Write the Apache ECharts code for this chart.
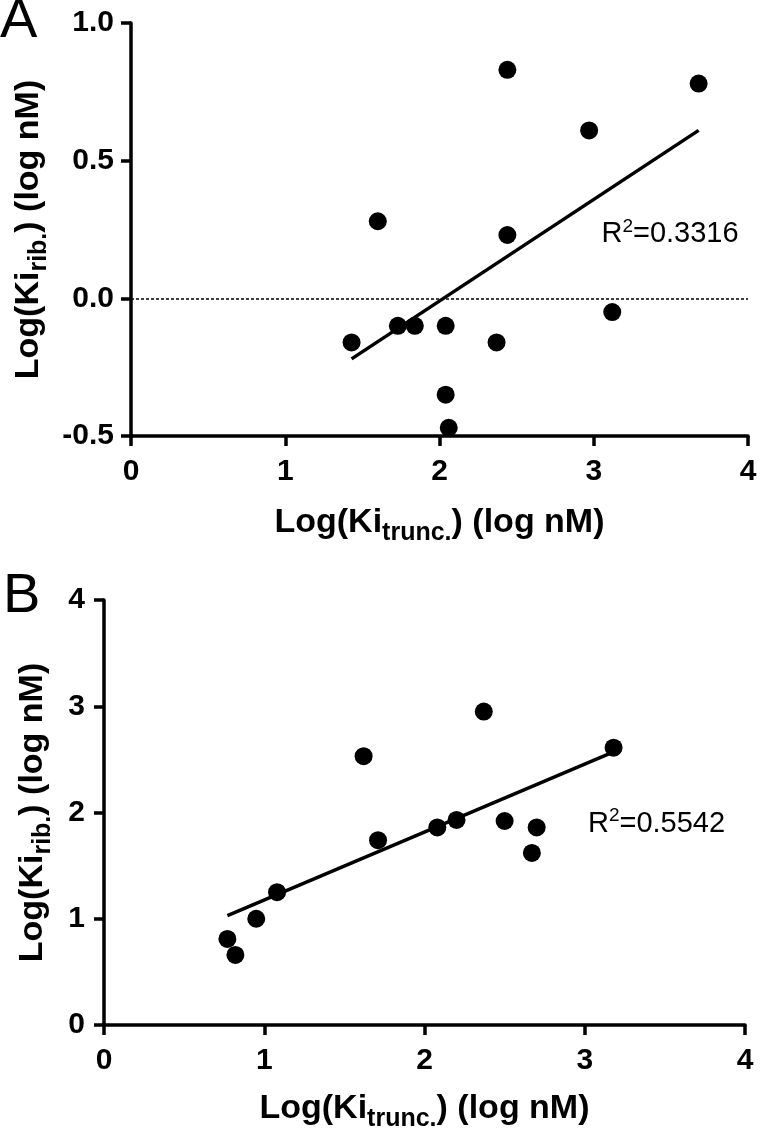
<!DOCTYPE html>
<html><head><meta charset="utf-8">
<script src="https://cdn.jsdelivr.net/npm/echarts@6/dist/echarts.min.js"></script>
<style>html,body{margin:0;padding:0;background:#fff}#c{width:761px;height:1133px}</style>
</head><body><div id="c"></div>
<script>
// ---- data ----
const xTicks = [0, 1, 2, 3, 4];
const yTicksA = [-0.5, 0.0, 0.5, 1.0];
const yTicksB = [0, 1, 2, 3, 4];

const ptsAx = [1.43, 1.60, 1.73, 1.84, 2.04, 2.04, 2.06, 2.37, 2.44, 2.44, 2.97, 3.12, 3.68];
const ptsAy = [-0.16, 0.28, -0.10, -0.10, -0.10, -0.35, -0.47, -0.16, 0.83, 0.23, 0.61, -0.05, 0.78];
const fitAx = [1.43, 3.68];
const fitAy = [-0.22, 0.61];
const r2A = '0.3316';

const ptsBx = [0.77, 0.82, 0.95, 1.08, 1.62, 1.71, 2.08, 2.20, 2.37, 2.50, 2.67, 2.70, 3.18];
const ptsBy = [0.81, 0.66, 1.00, 1.25, 2.53, 1.74, 1.86, 1.93, 2.95, 1.92, 1.62, 1.86, 2.61];
const fitBx = [0.77, 3.18];
const fitBy = [1.03, 2.57];
const r2B = '0.5542';

// annotation anchors (data space)
const r2AnchorA = [3.05, 0.238];
const r2AnchorB = [3.02, 1.91];

// ---- styling ----
const FONT = '"Liberation Sans", Arial, Helvetica, sans-serif';
const zip = (xs, ys) => xs.map((x, i) => [x, ys[i]]);

const titleRich = {
  b: { fontFamily: FONT, fontWeight: 'bold', fontSize: 34, color: '#000', lineHeight: 36, verticalAlign: 'top' },
  s: { fontFamily: FONT, fontWeight: 'bold', fontSize: 25, color: '#000', lineHeight: 25, verticalAlign: 'top', padding: [15, 0, 0, 0] }
};
const xTitle = '{b|Log(Ki}{s|trunc.}{b|) (log nM)}';
const yTitle = '{b|Log(Ki}{s|rib.}{b|) (log nM)}';

function xAxis(gi, nameGap) {
  return {
    type: 'value', gridIndex: gi, min: xTicks[0], max: xTicks[xTicks.length - 1], interval: 1,
    name: xTitle, nameLocation: 'middle', nameGap: nameGap,
    nameTextStyle: { rich: titleRich },
    axisLine: { show: true, onZero: false, lineStyle: { color: '#000', width: 3.5 } },
    axisTick: { show: true, length: 10, lineStyle: { color: '#000', width: 3.5 } },
    axisLabel: { fontFamily: FONT, fontWeight: 'bold', fontSize: 30, color: '#000', margin: 21 },
    splitLine: { show: false }
  };
}
function yAxis(gi, ticks, interval, digits, nameGap, margin) {
  return {
    type: 'value', gridIndex: gi, min: ticks[0], max: ticks[ticks.length - 1], interval: interval,
    name: yTitle, nameLocation: 'middle', nameGap: nameGap, nameRotate: 90,
    nameTextStyle: { rich: titleRich },
    axisLine: { show: true, onZero: false, lineStyle: { color: '#000', width: 3.5 } },
    axisTick: { show: true, length: 10, lineStyle: { color: '#000', width: 3.5 } },
    axisLabel: { fontFamily: FONT, fontWeight: 'bold', fontSize: 30, color: '#000', margin: margin,
      formatter: v => v.toFixed(digits) },
    splitLine: { show: false }
  };
}
function r2Series(gi, anchor, val) {
  return {
    type: 'scatter', xAxisIndex: gi, yAxisIndex: gi, symbolSize: 0, silent: true,
    itemStyle: { opacity: 1 },
    data: [anchor],
    label: {
      show: true, position: 'right', distance: 0, color: '#000', opacity: 1,
      formatter: '{t|R}{p|2}{t|=' + val + '}',
      rich: {
        t: { fontFamily: FONT, fontSize: 29, color: '#000', lineHeight: 32, verticalAlign: 'bottom' },
        p: { fontFamily: FONT, fontSize: 19, color: '#000', lineHeight: 19, verticalAlign: 'top' }
      }
    }
  };
}

const chart = echarts.init(document.getElementById('c'), null, { renderer: 'canvas' });
chart.setOption({
  animation: false,
  backgroundColor: '#fff',
  grid: [
    { left: 131, top: 23, width: 617, height: 413 },
    { left: 104, top: 600, width: 641, height: 428 }
  ],
  xAxis: [xAxis(0, 70), xAxis(1, 67)],
  yAxis: [yAxis(0, yTicksA, 0.5, 1, 77, 17), yAxis(1, yTicksB, 1, 0, 52, 19)],
  graphic: [
    { type: 'text', left: 0, top: -6, style: { text: 'A', fontFamily: FONT, fontSize: 56, fill: '#000' } },
    { type: 'text', left: 3, top: 569, style: { text: 'B', fontFamily: FONT, fontSize: 56, fill: '#000' } }
  ],
  series: [
    {
      type: 'line', xAxisIndex: 0, yAxisIndex: 0, data: zip(fitAx, fitAy), symbol: 'none',
      lineStyle: { color: '#000', width: 3.5 }, silent: true,
      markLine: { symbol: 'none', silent: true, label: { show: false },
        lineStyle: { color: '#000', width: 1.6, type: [3, 2], opacity: 1 }, data: [{ yAxis: 0 }] }
    },
    {
      type: 'scatter', xAxisIndex: 0, yAxisIndex: 0, data: zip(ptsAx, ptsAy), symbol: 'circle',
      symbolSize: 18, itemStyle: { color: '#000', opacity: 1 }, clip: false
    },
    r2Series(0, r2AnchorA, r2A),
    {
      type: 'line', xAxisIndex: 1, yAxisIndex: 1, data: zip(fitBx, fitBy), symbol: 'none',
      lineStyle: { color: '#000', width: 3.5 }, silent: true
    },
    {
      type: 'scatter', xAxisIndex: 1, yAxisIndex: 1, data: zip(ptsBx, ptsBy), symbol: 'circle',
      symbolSize: 18, itemStyle: { color: '#000', opacity: 1 }, clip: false
    },
    r2Series(1, r2AnchorB, r2B)
  ]
});
</script>
</body></html>
